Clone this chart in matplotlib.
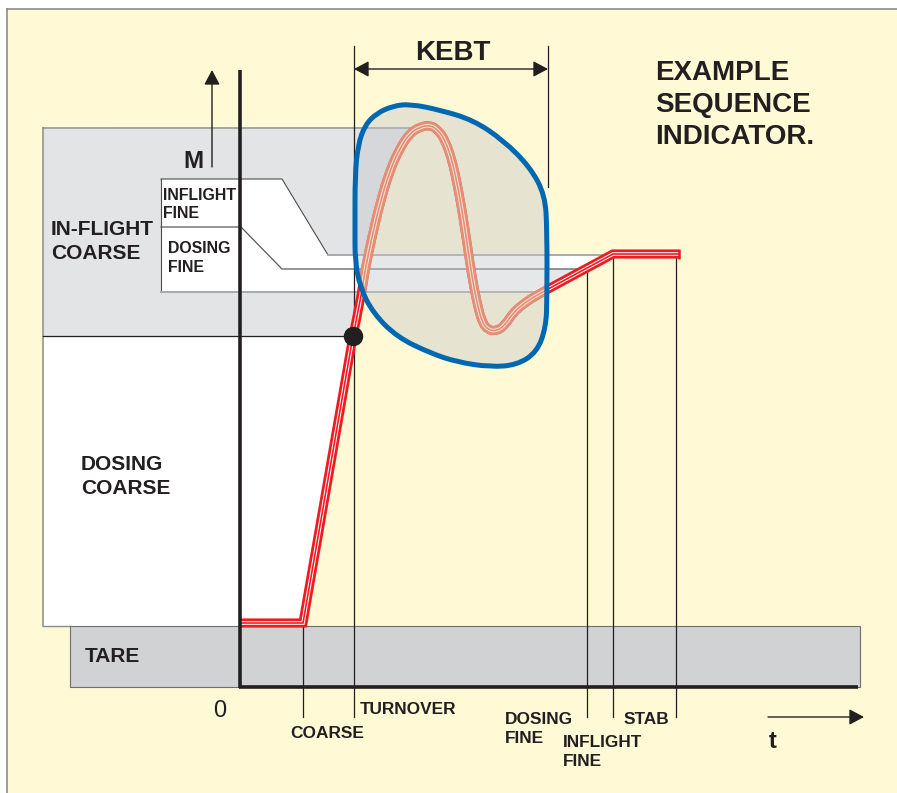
import matplotlib
matplotlib.use('Agg')
import matplotlib.pyplot as plt
from matplotlib.path import Path
from matplotlib.patches import PathPatch, Polygon, Rectangle

plt.rcParams['font.family'] = ['Liberation Sans', 'DejaVu Sans']

# ---------------- data (t = time units, M = mass units, origin at axis cross) -------------
# weighing trace: tare -> coarse ramp -> overshoot (inside KEBT) -> settle
ramp_t = [0, 62, 112]
ramp_m = [64, 64, 351]
wiggle_t = [112, 119, 124, 131, 139, 149, 159, 169, 179, 189, 197, 204, 211, 216,
            221, 226, 231, 236, 241, 247, 256, 264, 272, 281, 291, 302, 309]
wiggle_m = [351, 384, 417, 450, 484, 517, 539, 554, 560, 562, 557, 547, 527, 504,
            477, 444, 410, 384, 365, 357, 356, 362, 374, 382, 389, 395, 399]
settle_t = [309, 372, 438]
settle_m = [399, 433, 433]

# KEBT region outline
kebt_t = [114, 114, 117, 124, 136, 152, 169, 199, 232, 262, 289, 304, 306, 306,
          305, 296, 276, 249, 216, 189, 156, 132, 119, 114]
kebt_m = [457, 512, 542, 562, 574, 581, 583, 577, 567, 547, 520, 492, 457, 390,
          360, 335, 322, 320, 325, 334, 350, 374, 400, 427]

# levels (M)
tare_level = 61
coarse_level = 351
inflight_coarse_top = 559
box_top = 508
box_div = 460
band_inflight = 432
band_dosing = 418
band_bottom = 395

# sequence phases on the time axis
phase_names = ['COARSE', 'TURNOVER', 'DOSING\nFINE', 'INFLIGHT\nFINE', 'STAB']
phase_t = [62, 113, 346, 372, 435]
phase_top = [64, 641, 418, 433, 433]
kebt_start, kebt_end = 113, 307

# ---------------- figure ----------------
INK = '#231F20'
RED = '#ED1C24'
fig = plt.figure(figsize=(8.97, 7.93), dpi=100)
ax = fig.add_axes([0, 0, 1, 1])
ax.set_xlim(-241, 656)
ax.set_ylim(-106, 687)
ax.axis('off')

# background panel
ax.add_patch(Rectangle((-234, -106), 892, 784, facecolor='#FFF9D5', edgecolor='none', zorder=0))
ax.plot([-234, 658], [678, 678], color='#8C8C8C', lw=1.2, zorder=0.5)
ax.plot([-234, -234], [-106, 678], color='#8C8C8C', lw=1.2, zorder=0.5)

# in-flight coarse region (bounded on the right by the trace)
gray_pts = [(-198, inflight_coarse_top)] + list(zip(wiggle_t[8::-1], wiggle_m[8::-1])) + [(-198, coarse_level)]
ax.add_patch(Polygon(gray_pts, closed=True, facecolor='#E3E4E6', edgecolor='none', zorder=1))
ax.plot([-198, wiggle_t[8]], [inflight_coarse_top] * 2, color='#9D9FA2', lw=1.3, zorder=1.2)
ax.plot([-198, -198], [inflight_coarse_top, tare_level], color='#8C8C8C', lw=1.1, zorder=1.2)

# dosing coarse region
dc_pts = [(-198, coarse_level), (ramp_t[2], ramp_m[2]), (ramp_t[1], ramp_m[1]),
          (ramp_t[1], tare_level), (-198, tare_level)]
ax.add_patch(Polygon(dc_pts, closed=True, facecolor='white', edgecolor='none', zorder=1))
ax.plot([-198, ramp_t[2]], [coarse_level] * 2, color=INK, lw=0.9, zorder=1.3)
ax.plot([-198, -171], [tare_level] * 2, color='#8C8C8C', lw=1.0, zorder=1.3)

# fine bands
band_pts = [(-80, box_top), (41, box_top), (87, band_inflight), (settle_t[1], band_inflight),
            (settle_t[0], settle_m[0]), (307, band_bottom), (-80, band_bottom)]
ax.add_patch(Polygon(band_pts, closed=True, facecolor='white', edgecolor='none', zorder=1.4))
ax.add_patch(Polygon([(307, band_dosing), (phase_t[2], band_dosing), (307, band_bottom + 1)],
                     closed=True, facecolor='#E6E7E8', edgecolor='none', zorder=1.45))
ax.plot([-80, -80], [band_bottom, box_top], color='#4D4D4D', lw=0.8, zorder=1.5)
ax.plot([-80, 41, 87], [box_top, box_top, band_inflight], color='#4D4D4D', lw=0.8, zorder=1.5)
ax.plot([87, settle_t[1]], [band_inflight] * 2, color='#A7A9AC', lw=1.4, zorder=1.5)
ax.plot([-80, 0, 41, phase_t[2]], [box_div, box_div, band_dosing, band_dosing],
        color='#58595B', lw=0.9, zorder=1.5)
ax.plot([-80, 307], [band_bottom] * 2, color='#A7A9AC', lw=1.4, zorder=1.5)

# tare band
ax.add_patch(Rectangle((-171, 0), 790, tare_level, facecolor='#D1D2D4', edgecolor='#6D6E71',
                       lw=0.8, zorder=1.6))

# phase marker lines
for t, top in zip(phase_t, phase_top):
    ax.plot([t, t], [top, -30], color=INK, lw=0.9, zorder=2)
ax.plot([kebt_end, kebt_end], [641, 500], color=INK, lw=0.9, zorder=2)


# trace path
def trace_path():
    verts = [(ramp_t[0], ramp_m[0]), (ramp_t[1], ramp_m[1]), (ramp_t[2], ramp_m[2])]
    codes = [Path.MOVETO, Path.LINETO, Path.LINETO]
    pts = list(zip(wiggle_t, wiggle_m))
    n = len(pts)
    for i in range(1, n - 1):
        ctrl = pts[i]
        if i < n - 2:
            end = ((pts[i][0] + pts[i + 1][0]) / 2, (pts[i][1] + pts[i + 1][1]) / 2)
        else:
            end = pts[n - 1]
        verts += [ctrl, end]
        codes += [Path.CURVE3, Path.CURVE3]
    for t, m in zip(settle_t[1:], settle_m[1:]):
        verts.append((t, m))
        codes.append(Path.LINETO)
    return Path(verts, codes)


def blob_path():
    pts = list(zip(kebt_t, kebt_m))
    n = len(pts)
    mid = lambda a, b: ((a[0] + b[0]) / 2, (a[1] + b[1]) / 2)
    verts = [mid(pts[-1], pts[0])]
    codes = [Path.MOVETO]
    for i in range(n):
        verts += [pts[i], mid(pts[i], pts[(i + 1) % n])]
        codes += [Path.CURVE3, Path.CURVE3]
    return Path(verts, codes)


STROKES = [6.6, 2.6, 1.2]
tp = trace_path()
for col, lw in zip([RED, 'white', RED], STROKES):
    ax.add_patch(PathPatch(tp, fill=False, edgecolor=col, lw=lw, joinstyle='miter',
                           capstyle='butt', zorder=3))
ax.plot(settle_t[-1], settle_m[-1], marker='|', ms=6.6, mew=1.8, color=RED, zorder=3.1)

# KEBT blob
bp = blob_path()
blob_fill = PathPatch(bp, facecolor=(196 / 255, 198 / 255, 202 / 255), alpha=0.42,
                      edgecolor='none', zorder=4)
ax.add_patch(blob_fill)
for col, lw in zip(['#E58E76', '#F6E4DA', '#E58E76'], STROKES):
    pp = PathPatch(tp, fill=False, edgecolor=col, lw=lw, joinstyle='round', capstyle='butt', zorder=4.5)
    ax.add_patch(pp)
    pp.set_clip_path(blob_fill)
ax.add_patch(PathPatch(bp, fill=False, edgecolor='#0067B1', lw=3.6, zorder=5))

# coarse switch point
ax.plot(ramp_t[2], ramp_m[2], 'o', ms=13, color=INK, zorder=6)

# axes
ax.plot([-1, -1], [-1, 617], color=INK, lw=2.6, solid_capstyle='butt', zorder=6)
ax.plot([-2.5, 617], [0, 0], color=INK, lw=2.6, solid_capstyle='butt', zorder=6)

# arrows
arr = dict(arrowstyle='-|>,head_length=0.6,head_width=0.32', mutation_scale=15,
           color=INK, lw=1.0, shrinkA=0, shrinkB=0)
ax.annotate('', xy=(-29, 617), xytext=(-29, 520), arrowprops=arr, zorder=6)
ax.annotate('', xy=(623, -30), xytext=(527, -30), arrowprops=arr, zorder=6)
arr2 = dict(arr, arrowstyle='<|-|>,head_length=0.6,head_width=0.32')
ax.annotate('', xy=(kebt_end, 618), xytext=(kebt_start, 618), arrowprops=arr2, zorder=6)


# texts
def label(lines, t, m, size, step, weight='bold', ha='left'):
    for i, s in enumerate(lines):
        ax.text(t, m - i * step, s, fontsize=size, fontweight=weight, color=INK,
                ha=ha, va='baseline', zorder=7)


label(['IN-FLIGHT', 'COARSE'], -190, 452, 15, 24)
label(['DOSING', 'COARSE'], -160, 217, 15, 24)
label(['TARE'], -156, 25, 15, 0)
label(['INFLIGHT', 'FINE'], -78, 487, 11.4, 18)
label(['DOSING', 'FINE'], -73, 434, 11.4, 19)
label(['M'], -58, 519, 17.5, 0)
label(['KEBT'], 212, 627, 20, 0, ha='center')
label(['EXAMPLE', 'SEQUENCE', 'INDICATOR.'], 414, 607, 20, 32)
label(['0'], -28, -30, 17, 0, weight='normal')
label(['t'], 528, -61, 17, 0)

phase_label_pos = [(49, -51), (119, -27), (264, -37), (322, -60), (383, -37)]
for name, (t, m) in zip(phase_names, phase_label_pos):
    label(name.split('\n'), t, m, 12.4, 19)

fig.savefig('out.png', dpi=100, facecolor='white')
